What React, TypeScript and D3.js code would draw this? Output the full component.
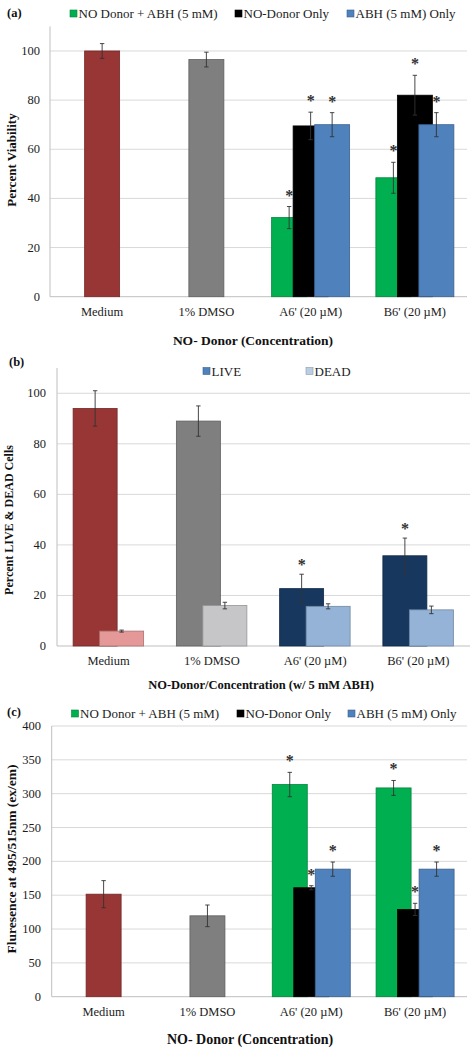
import React from "react";
import * as d3 from "d3";

// ---------- DATA ----------
const categories = ["Medium", "1% DMSO", "A6' (20 µM)", "B6' (20 µM)"];

// Panel (a): Percent viability
const viabControl = [100, 96.5, null, null];
const viabControlErr = [3, 3, null, null];
const viabCombo = [null, null, 32.2, 48.4];
const viabComboErr = [null, null, 4.5, 6.3];
const viabDonor = [null, null, 69.5, 82];
const viabDonorErr = [null, null, 5.6, 8.1];
const viabABH = [null, null, 70, 70];
const viabABHErr = [null, null, 4.9, 4.9];
const viabComboStar = [false, false, true, true];
const viabDonorStar = [false, false, true, true];
const viabABHStar = [false, false, true, true];
const viabTicks = [0, 20, 40, 60, 80, 100];

// Panel (b): LIVE & DEAD
const liveValues = [94, 89, 22.7, 35.7];
const liveErr = [7, 6, 5.7, 7];
const deadValues = [5.9, 16, 15.7, 14.3];
const deadErr = [0.4, 1.3, 1, 1.5];
const liveStar = [false, false, true, true];
const ldTicks = [0, 20, 40, 60, 80, 100];

// Panel (c): Fluorescence
const fluorControl = [151.5, 119.5, null, null];
const fluorControlErr = [20, 16, null, null];
const fluorCombo = [null, null, 313.5, 308.5];
const fluorComboErr = [null, null, 18, 11];
const fluorDonor = [null, null, 161, 129];
const fluorDonorErr = [null, null, 3, 9];
const fluorABH = [null, null, 188.5, 188.5];
const fluorABHErr = [null, null, 10.5, 10.5];
const fluorStar = [false, false, true, true];
const fluorTicks = [0, 50, 100, 150, 200, 250, 300, 350, 400];

const legendABC = ["NO Donor + ABH (5 mM)", "NO-Donor Only", "ABH (5 mM) Only"];
const legendLD = ["LIVE", "DEAD"];

// ---------- STYLE ----------
const FONT = "'Liberation Serif', 'Times New Roman', serif";
const TXT = "#1c1c1c";
const RED = "#973634";
const GRAY = "#7F7F7F";
const GREEN = "#00B050";
const BLACK = "#000000";
const BLUE = "#4F81BD";
const PINK = "#E49898";
const LGRAY = "#C6C6C8";
const NAVY = "#17375E";
const LBLUE = "#95B3D7";
const LIVE_LEG = "#4F81BD";
const DEAD_LEG = "#B9CDE5";
const GRID = "#D9D9D9";
const AXIS = "#BFBFBF";

type Bar = { cx: number; v: number; e: number; fill: string; w: number; star: boolean };

function Bars({ bars, y, starOff }: { bars: Bar[]; y: d3.ScaleLinear<number, number>; starOff: number }) {
  return (
    <g>
      {bars.map((b, i) => (
        <rect
          key={"r" + i}
          x={b.cx - b.w / 2}
          y={y(b.v)}
          width={b.w}
          height={y(0) - y(b.v)}
          fill={b.fill}
          stroke={d3.color(b.fill)!.darker(0.8).formatHex()}
          strokeWidth={0.8}
        />
      ))}
      {bars.map((b, i) => (
        <g key={"e" + i} stroke="#333" strokeWidth={0.9}>
          <line x1={b.cx} x2={b.cx} y1={y(b.v - b.e)} y2={y(b.v + b.e)} />
          <line x1={b.cx - 2.2} x2={b.cx + 2.2} y1={y(b.v + b.e)} y2={y(b.v + b.e)} />
          <line x1={b.cx - 2.2} x2={b.cx + 2.2} y1={y(b.v - b.e)} y2={y(b.v - b.e)} />
        </g>
      ))}
      {bars
        .filter((b) => b.star)
        .map((b, i) => (
          <text
            key={"s" + i}
            x={b.cx}
            y={y(b.v + b.e) - starOff}
            textAnchor="middle"
            fontSize={16}
            fontWeight="bold"
            fontFamily={FONT}
            fill="#333"
          >
            *
          </text>
        ))}
    </g>
  );
}

function Frame({
  x,
  y,
  ticks,
  tickX,
  tickSize,
}: {
  x: d3.ScaleBand<string>;
  y: d3.ScaleLinear<number, number>;
  ticks: number[];
  tickX: number;
  tickSize: number;
}) {
  const [l, r] = x.range();
  const [b, t] = y.range();
  return (
    <g>
      {ticks.slice(1).map((tk) => (
        <line key={tk} x1={l} x2={r} y1={y(tk)} y2={y(tk)} stroke={GRID} strokeWidth={1} />
      ))}
      <line x1={l} x2={l} y1={t} y2={b} stroke={AXIS} strokeWidth={1} />
      <line x1={l} x2={r} y1={b} y2={b} stroke={AXIS} strokeWidth={1} />
      {ticks.map((tk) => (
        <text
          key={"t" + tk}
          x={tickX}
          y={y(tk)}
          textAnchor="end"
          dominantBaseline="central"
          fontSize={tickSize}
          fontFamily={FONT}
          fill={TXT}
        >
          {tk}
        </text>
      ))}
    </g>
  );
}

function XLabels({ x, yPos, size }: { x: d3.ScaleBand<string>; yPos: number; size: number }) {
  return (
    <g>
      {categories.map((c) => (
        <text
          key={c}
          x={(x(c) as number) + x.bandwidth() / 2}
          y={yPos}
          textAnchor="middle"
          dominantBaseline="central"
          fontSize={size}
          fontFamily={FONT}
          fill={TXT}
        >
          {c}
        </text>
      ))}
    </g>
  );
}

function Legend({ items, xs, yPos, size }: { items: { label: string; color: string }[]; xs: number[]; yPos: number; size: number }) {
  return (
    <g>
      {items.map((it, i) => (
        <g key={it.label}>
          <rect x={xs[i]} y={yPos - 3.5} width={7} height={7} fill={it.color} stroke={d3.color(it.color)!.darker(0.8).formatHex()} strokeWidth={0.6} />
          <text x={xs[i] + 8.5} y={yPos} dominantBaseline="central" fontSize={size} fontFamily={FONT} fill={TXT}>
            {it.label}
          </text>
        </g>
      ))}
    </g>
  );
}

function groupBars(
  x: d3.ScaleBand<string>,
  control: (number | null)[],
  controlErr: (number | null)[],
  series: { v: (number | null)[]; e: (number | null)[]; star: boolean[]; fill: string }[],
  w: number,
  off: number
): Bar[] {
  const out: Bar[] = [];
  const ctrlColors = [RED, GRAY];
  categories.forEach((c, i) => {
    const cx = (x(c) as number) + x.bandwidth() / 2;
    if (control[i] != null) out.push({ cx, v: control[i] as number, e: controlErr[i] as number, fill: ctrlColors[i], w, star: false });
  });
  series.forEach((s, si) => {
    categories.forEach((c, i) => {
      if (s.v[i] == null) return;
      const cx = (x(c) as number) + x.bandwidth() / 2 + (si - 1) * off;
      out.push({ cx, v: s.v[i] as number, e: s.e[i] as number, fill: s.fill, w, star: s.star[i] });
    });
  });
  return out;
}

function Title({ x, y, text, size, rotate }: { x: number; y: number; text: string; size: number; rotate?: boolean }) {
  return (
    <text
      x={x}
      y={y}
      transform={rotate ? `rotate(-90 ${x} ${y})` : undefined}
      textAnchor="middle"
      dominantBaseline="central"
      fontSize={size}
      fontWeight="bold"
      fontFamily={FONT}
      fill="#111"
    >
      {text}
    </text>
  );
}

export default function App() {
  // ---- Panel (a)
  const xA = d3.scaleBand<string>().domain(categories).range([50, 467]).padding(0);
  const yA = d3.scaleLinear().domain([0, 110]).range([296.7, 26.4]);
  const barsA = groupBars(
    xA,
    viabControl,
    viabControlErr,
    [
      { v: viabCombo, e: viabComboErr, star: viabComboStar, fill: GREEN },
      { v: viabDonor, e: viabDonorErr, star: viabDonorStar, fill: BLACK },
      { v: viabABH, e: viabABHErr, star: viabABHStar, fill: BLUE },
    ],
    35,
    21.5
  );

  // ---- Panel (b)
  const xB = d3.scaleBand<string>().domain(categories).range([57, 470]).padding(0);
  const yB = d3.scaleLinear().domain([0, 110]).range([646, 368]);
  const liveColors = [RED, GRAY, NAVY, NAVY];
  const deadColors = [PINK, LGRAY, LBLUE, LBLUE];
  const barsB: Bar[] = [];
  categories.forEach((c, i) => {
    const cx = (xB(c) as number) + xB.bandwidth() / 2;
    barsB.push({ cx: cx - 13.5, v: liveValues[i], e: liveErr[i], fill: liveColors[i], w: 44, star: liveStar[i] });
  });
  categories.forEach((c, i) => {
    const cx = (xB(c) as number) + xB.bandwidth() / 2;
    barsB.push({ cx: cx + 13, v: deadValues[i], e: deadErr[i], fill: deadColors[i], w: 44, star: false });
  });

  // ---- Panel (c)
  const xC = d3.scaleBand<string>().domain(categories).range([51.7, 467]).padding(0);
  const yC = d3.scaleLinear().domain([0, 400]).range([996.7, 726]);
  const barsC = groupBars(
    xC,
    fluorControl,
    fluorControlErr,
    [
      { v: fluorCombo, e: fluorComboErr, star: fluorStar, fill: GREEN },
      { v: fluorDonor, e: fluorDonorErr, star: fluorStar, fill: BLACK },
      { v: fluorABH, e: fluorABHErr, star: fluorStar, fill: BLUE },
    ],
    35,
    21.5
  );

  const legABC = legendABC.map((l, i) => ({ label: l, color: [GREEN, BLACK, BLUE][i] }));
  const legLD = legendLD.map((l, i) => ({ label: l, color: [LIVE_LEG, DEAD_LEG][i] }));

  return (
    <svg width={474} height={1050} style={{ position: "absolute", left: 0, top: 0, background: "#fff" }}>
      <rect width={474} height={1050} fill="#fff" />
      {/* Panel (a) */}
      <text x={7} y={13} dominantBaseline="central" fontSize={12.5} fontWeight="bold" fontFamily={FONT} fill="#111">(a)</text>
      <Legend items={legABC} xs={[70, 235, 347]} yPos={13.5} size={13} />
      <Frame x={xA} y={yA} ticks={viabTicks} tickX={40} tickSize={12.5} />
      <Bars bars={barsA} y={yA} starOff={6} />
      <XLabels x={xA} yPos={312} size={12.5} />
      <Title x={11} y={160} text="Percent Viability" size={13} rotate />
      <Title x={253} y={340} text="NO- Donor  (Concentration)" size={13.5} />

      {/* Panel (b) */}
      <text x={9} y={361.5} dominantBaseline="central" fontSize={12.5} fontWeight="bold" fontFamily={FONT} fill="#111">(b)</text>
      <Legend items={legLD} xs={[203, 306]} yPos={371} size={13} />
      <Frame x={xB} y={yB} ticks={ldTicks} tickX={46} tickSize={12.5} />
      <Bars bars={barsB} y={yB} starOff={4} />
      <XLabels x={xB} yPos={661} size={12.5} />
      <Title x={9} y={520} text="Percent LIVE & DEAD Cells" size={12} rotate />
      <Title x={261} y={685} text="NO-Donor/Concentration (w/ 5 mM ABH)" size={12.5} />

      {/* Panel (c) */}
      <text x={7} y={712} dominantBaseline="central" fontSize={12.5} fontWeight="bold" fontFamily={FONT} fill="#111">(c)</text>
      <Legend items={legABC} xs={[71.5, 237, 348]} yPos={713.5} size={13} />
      <Frame x={xC} y={yC} ticks={fluorTicks} tickX={41} tickSize={12.5} />
      <Bars bars={barsC} y={yC} starOff={6} />
      <XLabels x={xC} yPos={1011.5} size={12.5} />
      <Title x={11} y={859} text="Fluresence at 495/515nm (ex/em)" size={13.5} rotate />
      <Title x={250} y={1039} text="NO- Donor (Concentration)" size={14} />
    </svg>
  );
}
